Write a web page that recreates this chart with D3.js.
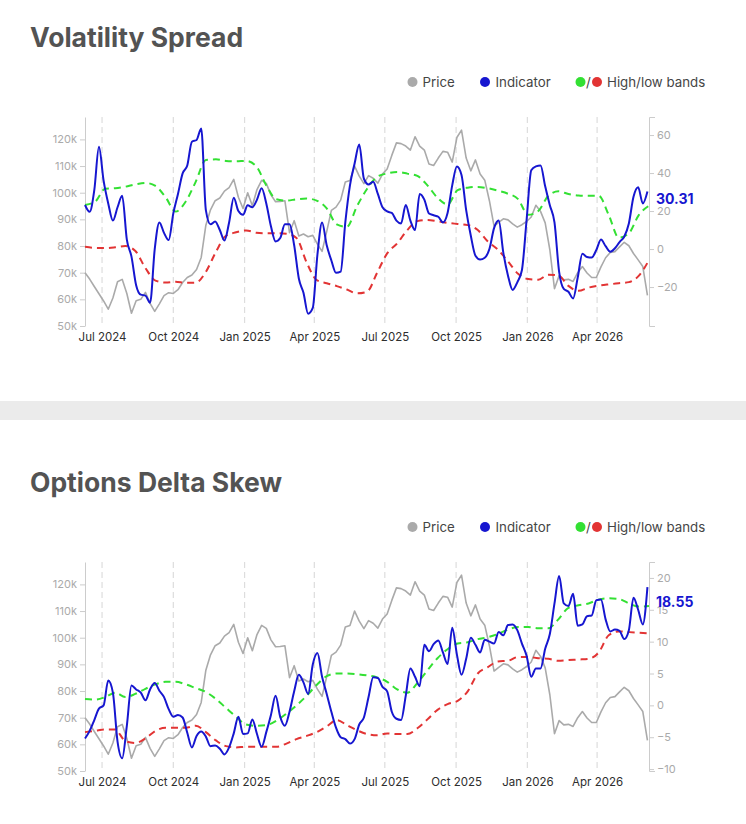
<!DOCTYPE html>
<html>
<head>
<meta charset="utf-8">
<script src="https://cdn.jsdelivr.net/npm/d3@7"></script>
<style>
  body { margin: 0; background: #fff; font-family: Inter, "Noto Sans", sans-serif; }
  svg { display: block; }
</style>
</head>
<body>
<svg id="page" width="746" height="824"></svg>
<script>
// Series sampled every 6 days, bands every 13 days, from 9 Jun 2024
const seriesStart = new Date(Date.UTC(2024, 5, 9));
const seriesStepDays = 6;
const bandStepDays = 13;

// price in thousands (same on both panels)
const priceK = [
  70.0, 67.6, 64.8, 62.1, 59.4, 56.3, 60.5, 66.6, 67.5, 62.2,
  54.8, 59.5, 60.0, 62.6, 58.5, 55.5, 58.3, 61.4, 62.5, 62.2,
  63.6, 66.3, 68.2, 69.1, 71.2, 75.7, 87.8, 93.6, 97.0, 98.0,
  100.6, 101.9, 105.0, 98.3, 94.1, 100.0, 95.1, 101.2, 104.6, 103.5,
  99.2, 96.6, 96.7, 97.0, 85.0, 89.5, 83.8, 84.5, 83.5, 84.0,
  80.7, 78.0, 85.4, 93.4, 94.6, 97.2, 104.0, 104.6, 110.0, 106.2,
  103.4, 106.4, 105.4, 103.6, 107.0, 108.9, 114.0, 118.7, 118.4, 117.5,
  116.0, 121.0, 117.5, 116.0, 110.8, 110.2, 113.0, 115.5, 115.2, 111.5,
  120.7, 123.5, 113.0, 108.2, 112.3, 107.0, 104.7, 97.0, 87.5, 88.9,
  90.2, 89.8, 88.3, 87.1, 88.0, 89.2, 90.9, 95.3, 93.0, 88.7,
  78.6, 64.0, 68.9, 67.3, 67.5, 66.7, 70.0, 72.3, 69.9, 68.2,
  68.2, 72.2, 75.6, 77.6, 77.9, 79.7, 81.4, 80.1, 77.2, 74.8,
  72.3, 61.5
];

// Volatility Spread
const volIndicator = [
  23.2, 19.6, 31, 53.8, 36, 24, 15, 22, 28, 5,
  -4, -19, -24, -24.5, -28.3, 0, 14, 8.5, 4.7, 18.8,
  29, 39.8, 44, 56.5, 57.4, 63.5, 20.5, 13, 14.5, 10,
  4.5, 14, 27, 20, 18, 23, 22, 26, 32, 24,
  12, 4, 5.8, 13, 13, 2, -15.5, -23, -34, -31,
  -3, 14, 2, -6, -12.5, -11.9, 14, 33.5, 45, 55,
  37, 34, 35.4, 29, 22, 19.8, 19, 15, 13.5, 23.2,
  15, 10, 29, 26, 18.7, 17.8, 17, 14, 19, 33.5,
  43.5, 39, 20.5, 7, -3.5, -5.5, -4.6, 0, 11, 15,
  -2, -14, -21.5, -17.5, -11, 15.3, 41.5, 43.5, 44, 33,
  23, 14, -12, -21, -22.5, -26, -15, -2.5, -4.2, -4.5,
  -0.5, 5, 1.5, -1.4, 0.4, 3.7, 6.5, 13.5, 27.5, 32.5,
  24, 30.31
];
const volHigh = [
  23.2, 24.9, 31.7, 32, 32.8, 34, 34.8, 33.2, 27.3, 19.7,
  25, 35.5, 46.9, 47.2, 46.4, 46.2, 46.4, 43.6, 33.5, 26.2,
  25.5, 26.2, 26.6, 25.5, 21.4, 13, 11.7, 22.5, 31.6, 38,
  39.8, 40.6, 39.7, 38.5, 33.5, 27, 23.5, 31, 32.3, 32.7,
  32, 30.7, 29.1, 26.3, 18, 20, 28, 30.4, 29, 28.2,
  28, 28, 18, 6, 8.3, 18, 22.8
];
const volLow = [
  1.2, 0.6, 0.5, 0.9, 1.6, -1, -10, -16.6, -17.6, -17.2,
  -17.8, -17.7, -12, -1.5, 7, 8.8, 9.8, 8.6, 8.3, 8.3,
  8, 5.8, -7, -16.3, -18, -19.5, -21.3, -23.3, -22.5, -12.5,
  -2.3, 3, 10, 14.7, 15.3, 14.6, 13.8, 13.2, 12.6, 10,
  4, -0.3, -6.5, -13, -15.8, -16.2, -13.5, -13.9, -19.4, -22,
  -20.3, -19.3, -18.6, -18, -17.4, -14, -5.8
];
const volTicks = [-20, 0, 20, 40, 60];

// Options Delta Skew
const skewIndicator = [
  -5.2, -4, -2.3, -0.5, 0, 3.9, 2, -5.7, -8.3, -3.2,
  3.1, 2.5, 2, 0.8, 2.5, 3.5, 2.3, 1.3, -0.6, -1.8,
  -1.5, -1.9, -4.3, -6.6, -4.8, -4.1, -4.9, -6.4, -6.3, -6.8,
  -7.7, -6.6, -4.4, -1.8, -4.5, -4.4, -2.2, -4.5, -6.5, -4.2,
  -1.5, 1.5, -1.8, -3.2, -1, 2.2, 4.8, 3.6, 1.8, 6.4,
  8.2, 4.5, 1.8, -1, -3.5, -5, -5.3, -6, -5.3, -3,
  -1.9, 1.3, 4.4, 4.3, 2.9, 2.2, -1, -2.1, -2.3, 1.5,
  5.8, 4.5, 3, 9.5, 8.5, 9.6, 10.2, 8.3, 6.5, 12.2,
  8, 4.8, 7.3, 10.6, 9.5, 8.3, 10.3, 10, 9.7, 11.5,
  11, 12.6, 12.7, 11.8, 9.7, 7.8, 4.5, 5.8, 5.8, 8.9,
  11.2, 16, 20.3, 16, 15.6, 17.5, 12.5, 12.7, 14, 14.1,
  16.5, 16.6, 13.5, 11.6, 11.9, 11.7, 10.4, 11.8, 16.9, 15,
  12.7, 18.55
];
const skewHigh = [
  1, 0.9, 1.3, 2, 1.3, 1.8, 2.6, 3.3, 3.7, 3.7,
  3.3, 2.7, 2.1, 1, -0.4, -1.8, -3, -3.2, -3.1, -2.4,
  -1.3, 0, 1.5, 3.2, 4.6, 5, 5, 4.9, 4.7, 4.4,
  3.7, 2.5, 2, 3.5, 5.5, 7.4, 8.8, 9.7, 9.9, 10.4,
  10.7, 11.2, 11.9, 12.3, 12.3, 12.1, 12.1, 13.5, 15.3, 15.7,
  16, 16.6, 16.8, 16.7, 16, 15.5, 15.6
];
const skewLow = [
  -4.2, -4, -3.8, -3.8, -5.6, -5.9, -5.2, -4, -3.5, -3.5,
  -3.5, -3.2, -4.2, -5.5, -6.4, -6.6, -6.5, -6.5, -6.5, -6.5,
  -6, -5.3, -4.8, -4.2, -3.3, -2.3, -3.1, -3.9, -4.5, -4.7,
  -4.4, -4.5, -4.5, -3.6, -2.2, -0.7, 0.2, 0.7, 2.2, 5,
  6, 6.9, 7, 7.6, 7.6, 7.4, 7.3, 7, 7.1, 7.2,
  7.3, 8.3, 11, 11.6, 11.5, 11.4, 11.3
];
const skewTicks = [-10, -5, 0, 5, 10, 15, 20];

const priceTicks = [50, 60, 70, 80, 90, 100, 110, 120];
const legendItems = ["Price", "Indicator", "High/low bands"];

// colours
const cPrice = "#aaaaaa", cInd = "#1616d0", cHigh = "#33e033", cLow = "#e23434";

const svg = d3.select("#page");

// grey strip between the two cards
svg.append("rect").attr("x", 0).attr("y", 401).attr("width", 746).attr("height", 19)
  .attr("fill", "#ebebeb");

const seriesDates = priceK.map((_, i) => d3.utcDay.offset(seriesStart, i * seriesStepDays));
const bandDates = volHigh.map((_, i) => d3.utcDay.offset(seriesStart, i * bandStepDays));

const x = d3.scaleUtc()
  .domain([seriesStart, d3.utcDay.offset(seriesStart, 728)])
  .range([85, 649]);

const charts = [
  { off: 0, title: "Volatility Spread", ind: volIndicator, high: volHigh, low: volLow,
    rDomain: [-40.5, 69.5], rTicks: volTicks, labelDy: 8 },
  { off: 445, title: "Options Delta Skew", ind: skewIndicator, high: skewHigh, low: skewLow,
    rDomain: [-10.3, 22.5], rTicks: skewTicks, labelDy: 15 }
];

charts.forEach(c => {
  const top = 117 + c.off, bottom = 326 + c.off;
  const g = svg.append("g");

  // title
  g.append("text")
    .attr("x", 30).attr("y", 47 + c.off)
    .style("font-size", "26.5px").style("font-weight", "700")
    .attr("fill", "#535353")
    .text(c.title);

  // legend
  const ly = 82 + c.off;
  const lg = g.append("g").style("font-size", "13.3px").attr("fill", "#454545");
  lg.append("circle").attr("cx", 412.5).attr("cy", ly).attr("r", 5).attr("fill", cPrice);
  lg.append("text").attr("x", 422.5).attr("y", ly).attr("dy", "0.35em").text(legendItems[0]);
  lg.append("circle").attr("cx", 485).attr("cy", ly).attr("r", 5).attr("fill", cInd);
  lg.append("text").attr("x", 495.5).attr("y", ly).attr("dy", "0.35em").text(legendItems[1]);
  lg.append("circle").attr("cx", 580.5).attr("cy", ly).attr("r", 5).attr("fill", cHigh);
  lg.append("text").attr("x", 588.5).attr("y", ly).attr("dy", "0.35em")
    .attr("text-anchor", "middle").text("/");
  lg.append("circle").attr("cx", 597).attr("cy", ly).attr("r", 5).attr("fill", cLow);
  lg.append("text").attr("x", 607).attr("y", ly).attr("dy", "0.35em").text(legendItems[2]);

  const yL = d3.scaleLinear().domain([50, 128.4]).range([bottom, top]);
  const yR = d3.scaleLinear().domain(c.rDomain).range([bottom, top]);

  // vertical dashed gridlines at quarter ticks
  const ticks = x.ticks(d3.utcMonth.every(3));
  g.append("g").selectAll("line").data(ticks).join("line")
    .attr("x1", d => x(d)).attr("x2", d => x(d))
    .attr("y1", top).attr("y2", bottom)
    .attr("stroke", "#dddddd").attr("stroke-width", 1.2)
    .attr("stroke-dasharray", "6,4");

  // x labels
  const xAxis = g.append("g")
    .attr("transform", `translate(0,${bottom})`)
    .call(d3.axisBottom(x).tickValues(ticks).tickFormat(d3.utcFormat("%b %Y"))
      .tickSize(0).tickPadding(7));
  xAxis.select(".domain").remove();
  xAxis.selectAll("text").style("font-size", "11.5px").style("font-family", "Inter, sans-serif")
    .attr("fill", "#2e2e2e");

  // left axis
  const la = g.append("g")
    .attr("transform", "translate(85,0)")
    .call(d3.axisLeft(yL).tickValues(priceTicks).tickFormat(d => d + "k")
      .tickSize(5).tickSizeOuter(0).tickPadding(3));
  la.select(".domain").attr("stroke", "#cccccc");
  la.selectAll(".tick line").attr("stroke", "#cccccc");
  la.selectAll("text").style("font-size", "11px").style("font-family", "Inter, sans-serif")
    .attr("fill", "#aaaaaa");

  // right axis
  const ra = g.append("g")
    .attr("transform", "translate(649,0)")
    .call(d3.axisRight(yR).tickValues(c.rTicks).tickFormat(d3.format("")));
  ra.select(".domain").attr("stroke", "#cccccc");
  ra.selectAll(".tick line").attr("stroke", "#cccccc").attr("x2", 5);
  ra.selectAll("text").attr("x", 8).style("font-size", "11px")
    .style("font-family", "Inter, sans-serif").attr("fill", "#aaaaaa");

  // price
  g.append("path")
    .datum(priceK)
    .attr("fill", "none").attr("stroke", cPrice).attr("stroke-width", 1.6)
    .attr("stroke-linejoin", "round")
    .attr("d", d3.line().x((d, i) => x(seriesDates[i])).y(d => yL(d)));

  // bands
  const bandLine = d3.line().curve(d3.curveMonotoneX)
    .x((d, i) => x(bandDates[i])).y(d => yR(d));
  g.append("path").datum(c.high)
    .attr("fill", "none").attr("stroke", cHigh).attr("stroke-width", 2)
    .attr("stroke-dasharray", "7,5").attr("d", bandLine);
  g.append("path").datum(c.low)
    .attr("fill", "none").attr("stroke", cLow).attr("stroke-width", 2)
    .attr("stroke-dasharray", "7,5").attr("d", bandLine);

  // indicator
  g.append("path").datum(c.ind)
    .attr("fill", "none").attr("stroke", cInd).attr("stroke-width", 2)
    .attr("stroke-linejoin", "round")
    .attr("d", d3.line().curve(d3.curveMonotoneX)
      .x((d, i) => x(seriesDates[i])).y(d => yR(d)));

  // last value label
  const last = c.ind[c.ind.length - 1];
  g.append("text")
    .attr("x", 656).attr("y", yR(last) + c.labelDy).attr("dy", "0.35em")
    .style("font-size", "14px").style("font-weight", "700")
    .attr("fill", cInd)
    .text(last.toFixed(2));
});
</script>
</body>
</html>
